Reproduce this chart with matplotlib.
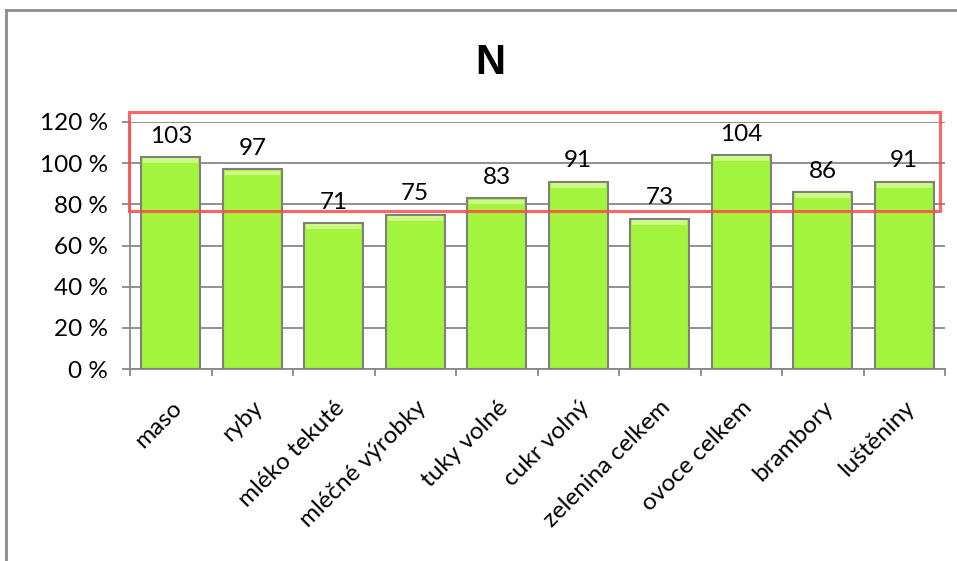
import numpy as np
import matplotlib.pyplot as plt
from matplotlib.patches import Rectangle
from matplotlib.lines import Line2D

categories = ["maso", "ryby", "mléko tekuté", "mléčné výrobky", "tuky volné",
              "cukr volný", "zelenina celkem", "ovoce celkem", "brambory", "luštěniny"]
values = [103, 97, 71, 75, 83, 91, 73, 104, 86, 91]
yticks = [0, 20, 40, 60, 80, 100, 120]

plt.rcParams['font.family'] = ['Lato', 'DejaVu Sans']

fig = plt.figure(figsize=(9.57, 5.61), dpi=100)
ax = fig.add_axes([130 / 957, 1 - 369 / 561, 815 / 957, 247 / 561])

x = np.arange(len(categories))
bw = 0.72
ax.bar(x, values, width=bw, color="#a2f43c", edgecolor="#7f7f7f", linewidth=1.5, zorder=3)
# light bevel on top of each bar
ax.bar(x, [2.2] * len(values), width=bw - 0.04, bottom=np.array(values) - 2.9,
       color="#cdf985", linewidth=0, zorder=3.5)
for xi, v in zip(x, values):
    ax.text(xi, v + 5, str(v), ha="center", va="bottom", fontsize=17.5, zorder=4)

ax.set_xlim(-0.5, len(categories) - 0.5)
ax.set_ylim(0, 120)
ax.set_yticks(yticks)
ax.set_yticklabels([f"{t} %" for t in yticks], fontsize=17.5)
ax.yaxis.grid(True, color="#888888", linewidth=1.3, zorder=0)
ax.set_xticks(x)
ax.set_xticklabels(categories, rotation=45, ha="right", rotation_mode="anchor", fontsize=17.5)
ax.tick_params(axis="x", length=0, pad=20)
ax.tick_params(axis="y", length=6, color="#888888", width=1.3, pad=10)
for xb in np.arange(-0.5, len(categories), 1.0):
    ax.plot([xb, xb], [0, -3], color="#888888", lw=1.3, clip_on=False)
for s in ["top", "right"]:
    ax.spines[s].set_visible(False)
ax.spines["left"].set_color("#888888")
ax.spines["bottom"].set_color("#888888")
ax.spines["left"].set_linewidth(1.3)
ax.spines["bottom"].set_linewidth(1.3)

# red highlight box
ax.add_patch(Rectangle((-0.51, 76.8), 9.95, 48.1, fill=False, edgecolor="#ff4a4a",
                       linewidth=2.2, alpha=0.85, clip_on=False, zorder=5))

fig.text(490 / 957, 1 - 63 / 561, "N", ha="center", va="center", fontsize=30, fontweight="bold",
         family=["Liberation Sans", "DejaVu Sans"])

# outer frame
fig.add_artist(Line2D([6 / 957, 6 / 957], [0, 1 - 10 / 561], color="#8c8c8c", lw=2))
fig.add_artist(Line2D([6 / 957, 1], [1 - 10 / 561, 1 - 10 / 561], color="#8c8c8c", lw=2))

fig.savefig("out.png", dpi=100)
